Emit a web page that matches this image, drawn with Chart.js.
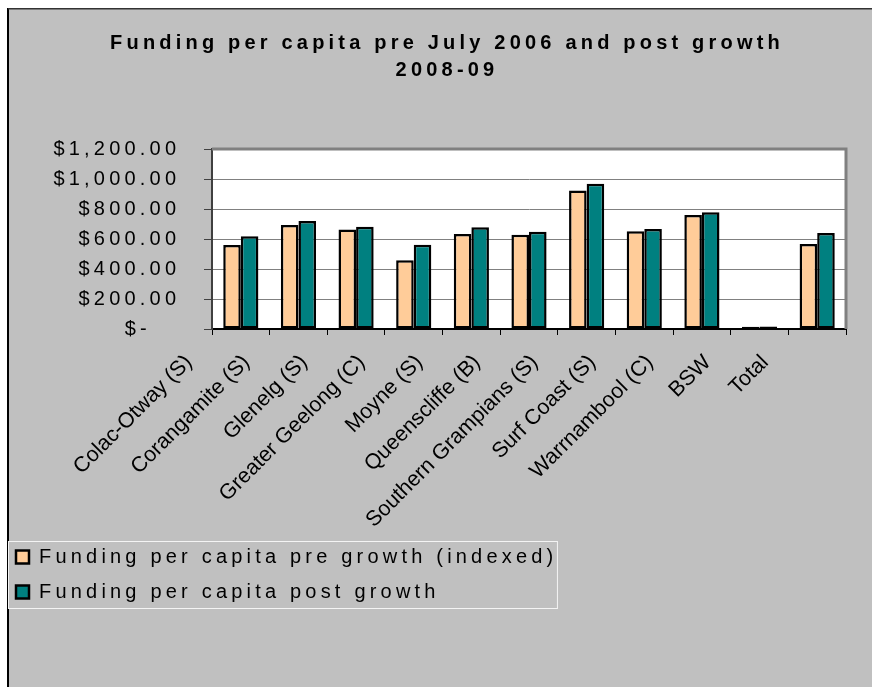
<!DOCTYPE html>
<html>
<head>
<meta charset="utf-8">
<script src="https://cdn.jsdelivr.net/npm/chart.js@4/dist/chart.umd.min.js"></script>
<style>
  html, body { margin: 0; padding: 0; background: #fff; }
  #wrap { width: 872px; height: 687px; }
</style>
</head>
<body>
<div id="wrap"><canvas id="fundingChart" width="872" height="687"></canvas></div>
<script>
// chart data
const councils = ['Colac-Otway (S)', 'Corangamite (S)', 'Glenelg (S)', 'Greater Geelong (C)', 'Moyne (S)',
  'Queenscliffe (B)', 'Southern Grampians (S)', 'Surf Coast (S)', 'Warrnambool (C)', 'BSW', 'Total'];
const preGrowth = [560, 693, 664, 458, 633, 629, 924, 651, 760, 15, 567];
const postGrowth = [618, 720, 682, 562, 678, 649, 969, 667, 778, 17, 640];
const yTicks = [0, 200, 400, 600, 800, 1000, 1200];
const seriesNames = ['Funding per capita pre growth (indexed)', 'Funding per capita post growth'];
const titleLines = ['Funding per capita pre July 2006 and post growth', '2008-09'];

const SPACING = '4.2px';
Chart.defaults.font.family = '"Liberation Sans", Arial, sans-serif';
Chart.defaults.color = '#000';

function money(v) {
  if (v === 0) return '$-   ';
  return '$' + v.toLocaleString('en-US', { minimumFractionDigits: 2, maximumFractionDigits: 2 });
}

// background, frame, title and legend box (Excel look)
const excelFrame = {
  id: 'excelFrame',
  beforeUpdate(chart) {
    chart.ctx.letterSpacing = SPACING;
  },
  beforeDraw(chart) {
    const { ctx, chartArea: a, width, height } = chart;
    ctx.letterSpacing = SPACING;
    const xs = chart.scales.x;
    if (xs && !xs._noSpacing) {
      const orig = xs.drawLabels;
      xs.drawLabels = function (area) {
        const prev = this.ctx.letterSpacing;
        this.ctx.letterSpacing = '0px';
        orig.call(this, area);
        this.ctx.letterSpacing = prev;
      };
      xs._noSpacing = true;
    }
    ctx.save();
    ctx.fillStyle = '#fff';
    ctx.fillRect(0, 0, width, height);
    ctx.fillStyle = '#c0c0c0';
    ctx.fillRect(8, 9, width - 8, height - 9);
    ctx.fillStyle = '#000';
    ctx.fillRect(7, 8, 2, height - 8);
    ctx.fillStyle = '#333';
    ctx.fillRect(8, 8, width - 8, 1.5);
    ctx.fillStyle = '#fff';
    ctx.fillRect(a.left, a.top, a.right - a.left, a.bottom - a.top);
    ctx.restore();
  },
  beforeDatasetsDraw(chart) {
    const { ctx, chartArea: a } = chart;
    ctx.save();
    ctx.strokeStyle = '#808080';
    ctx.lineWidth = 3;
    ctx.beginPath();
    ctx.moveTo(a.left, a.top);
    ctx.lineTo(a.right, a.top);
    ctx.lineTo(a.right, a.bottom);
    ctx.stroke();
    ctx.restore();
  },
  afterDraw(chart) {
    const { ctx } = chart;
    ctx.save();
    ctx.letterSpacing = SPACING;
    ctx.fillStyle = '#000';
    ctx.font = 'bold 20px "Liberation Sans", Arial, sans-serif';
    ctx.textAlign = 'center';
    ctx.textBaseline = 'middle';
    titleLines.forEach((t, i) => ctx.fillText(t, 447, 43 + i * 27));

    // legend frame
    const lg = chart.legend;
    const w = Math.max(...lg.legendHitBoxes.map(h => h.width));
    ctx.strokeStyle = '#f4f4f4';
    ctx.lineWidth = 1;
    ctx.strokeRect(8.5, lg.top + 9.5, lg.left + 15 + w - 8.5, 67);
    ctx.restore();
  }
};

new Chart(document.getElementById('fundingChart'), {
  type: 'bar',
  data: {
    labels: councils,
    datasets: [
      {
        label: seriesNames[0],
        data: preGrowth,
        backgroundColor: '#FFCC99',
        borderColor: '#000',
        borderWidth: 2.5,
        borderSkipped: false,
        categoryPercentage: 0.61,
        barPercentage: 1
      },
      {
        label: seriesNames[1],
        data: postGrowth,
        backgroundColor: '#008080',
        borderColor: '#000',
        borderWidth: 2.5,
        borderSkipped: false,
        categoryPercentage: 0.61,
        barPercentage: 1
      }
    ]
  },
  options: {
    responsive: false,
    animation: false,
    layout: { padding: { top: 149, left: 1, right: 26, bottom: 75 } },
    plugins: {
      title: { display: false },
      tooltip: { enabled: false },
      legend: {
        position: 'bottom',
        align: 'start',
        labels: {
          boxWidth: 13,
          boxHeight: 13,
          padding: 15,
          color: '#000',
          font: { size: 20 }
        }
      }
    },
    scales: {
      x: {
        grid: { display: true, drawOnChartArea: false, drawTicks: true, tickLength: 6, color: '#000' },
        border: { color: '#000', width: 2 },
        ticks: {
          autoSkip: false,
          minRotation: 45,
          maxRotation: 45,
          labelOffset: -52,
          padding: 15,
          color: '#000',
          font: { size: 21.5 }
        },
        afterFit(s) { s.height = 203; }
      },
      y: {
        min: 0,
        max: 1200,
        grid: { color: '#808080', lineWidth: 1, tickLength: 8, tickColor: '#404040' },
        border: { color: '#404040', width: 2 },
        ticks: {
          padding: 23.8,
          color: '#000',
          font: { size: 20 },
          callback: v => money(v)
        },
        afterBuildTicks(s) { s.ticks = yTicks.map(v => ({ value: v })); },
        afterFit(s) { s.width = 211; }
      }
    }
  },
  plugins: [excelFrame]
});
</script>
</body>
</html>
